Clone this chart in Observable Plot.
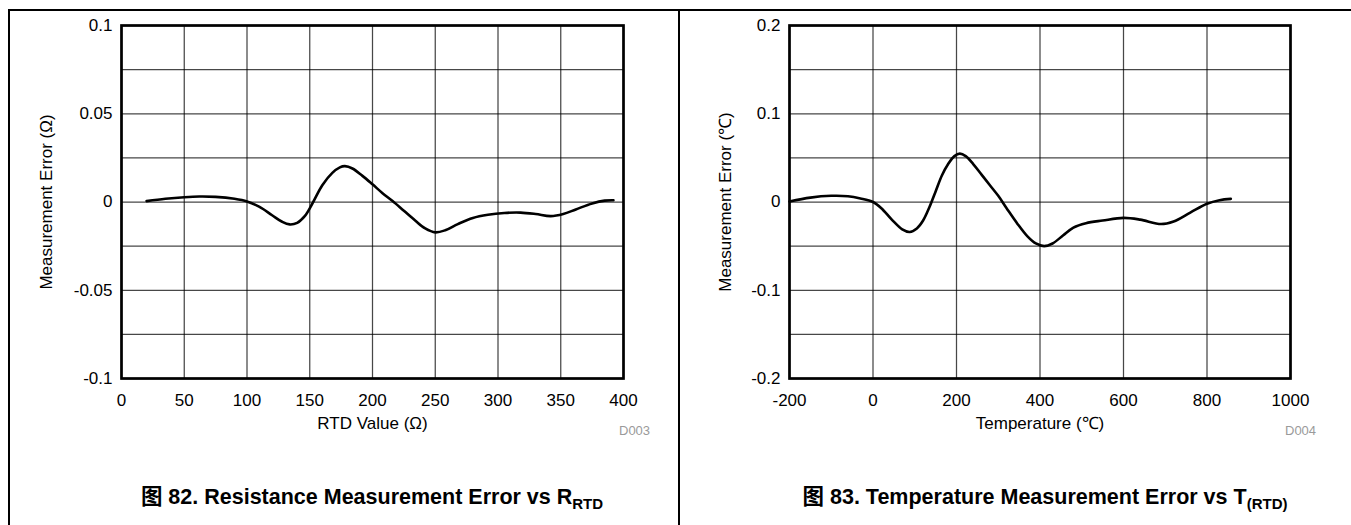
<!DOCTYPE html>
<html><head><meta charset="utf-8">
<script src="https://cdn.jsdelivr.net/npm/d3@7"></script>
<script src="https://cdn.jsdelivr.net/npm/@observablehq/plot@0.6"></script>
<style>
html,body{margin:0;padding:0;background:#fff;}
#page{position:relative;width:1351px;height:525px;overflow:hidden;font-family:"Liberation Sans",Arial,sans-serif;}
.panel{position:absolute;top:0;}
.rule{position:absolute;background:#000;z-index:5;}
.cap{position:absolute;font-weight:bold;font-size:21.5px;line-height:21px;white-space:nowrap;transform:translateX(-50%);font-family:"Liberation Sans","Noto Sans CJK SC",sans-serif;color:#000;}
.cap sub{font-size:15px;line-height:0;vertical-align:-5px;}
.code{position:absolute;color:#9a9a9a;font-size:13px;line-height:13px;}
</style></head>
<body><div id="page">
<div id="left" class="panel" style="left:0"></div>
<div id="right" class="panel" style="left:676px"></div>
<div class="rule" style="left:8px;top:9px;width:1343px;height:1.5px"></div>
<div class="rule" style="left:8px;top:9px;width:1.5px;height:516px"></div>
<div class="rule" style="left:678px;top:9px;width:1.5px;height:516px"></div>
<div class="code" style="left:619px;top:424px">D003</div>
<div class="code" style="left:1285px;top:424px">D004</div>
<div class="cap" style="left:372px;top:487px">图 82. Resistance Measurement Error vs R<sub>RTD</sub></div>
<div class="cap" style="left:1045px;top:487px">图 83. Temperature Measurement Error vs T<sub>(RTD)</sub></div>
</div>
<script>
// ---- Figure 82: resistance error vs RTD value ----
const rtdValue = [20,35,50,62,75,90,100,110,120,128,134,140,146,152,160,168,174,178,184,192,200,208,216,225,234,242,250,258,268,280,292,305,318,330,342,352,362,375,385,392];
const rtdError = [0.0005,0.0018,0.0027,0.0031,0.0029,0.0018,0.0003,-0.0028,-0.0075,-0.0112,-0.0127,-0.0118,-0.0080,-0.0010,0.0095,0.0165,0.0196,0.0203,0.0190,0.0148,0.0100,0.0050,0.0005,-0.0050,-0.0105,-0.0150,-0.0172,-0.0160,-0.0125,-0.0090,-0.0072,-0.0062,-0.0060,-0.0068,-0.0080,-0.0068,-0.0042,-0.0008,0.0008,0.0010];
const leftXTicks = [0,50,100,150,200,250,300,350,400];
const leftXTickLabels = ["0","50","100","150","200","250","300","350","400"];
const leftYGrid = [-0.1,-0.075,-0.05,-0.025,0,0.025,0.05,0.075,0.1];
const leftYTicks = [-0.1,-0.05,0,0.05,0.1];
const leftYTickLabels = ["-0.1","-0.05","0","0.05","0.1"];
const leftXLabel = "RTD Value (Ω)";
const leftYLabel = "Measurement Error (Ω)";

// ---- Figure 83: temperature error vs temperature ----
const tempValue = [-200,-150,-100,-60,-30,0,20,45,70,88,105,120,135,150,165,180,195,208,222,240,260,280,300,320,345,370,390,410,430,455,480,510,550,600,640,690,720,760,800,830,857];
const tempError = [0.0005,0.005,0.007,0.0065,0.004,0.0,-0.007,-0.020,-0.031,-0.034,-0.030,-0.021,-0.006,0.012,0.030,0.043,0.052,0.0548,0.052,0.043,0.031,0.019,0.007,-0.007,-0.024,-0.039,-0.047,-0.050,-0.047,-0.038,-0.029,-0.024,-0.021,-0.018,-0.020,-0.025,-0.022,-0.012,-0.002,0.002,0.0035];
const rightXTicks = [-200,0,200,400,600,800,1000];
const rightXTickLabels = ["-200","0","200","400","600","800","1000"];
const rightYGrid = [-0.2,-0.15,-0.1,-0.05,0,0.05,0.1,0.15,0.2];
const rightYTicks = [-0.2,-0.1,0,0.1,0.2];
const rightYTickLabels = ["-0.2","-0.1","0","0.1","0.2"];
const rightXLabel = "Temperature (℃)";
const rightYLabel = "Measurement Error (℃)";

function makeChart(cfg) {
  const data = cfg.xs.map((x, i) => ({x, y: cfg.ys[i]}));
  const xFmt = new Map(cfg.xTicks.map((t, i) => [t, cfg.xTickLabels[i]]));
  const yFmt = new Map(cfg.yTicks.map((t, i) => [t, cfg.yTickLabels[i]]));
  return Plot.plot({
    width: cfg.width, height: 445,
    marginLeft: cfg.marginLeft, marginRight: cfg.marginRight, marginTop: 25, marginBottom: 67,
    style: {fontFamily: '"Liberation Sans", Arial, sans-serif', fontSize: "17px", background: "transparent", color: "#000", overflow: "visible"},
    x: {domain: cfg.xDomain},
    y: {domain: cfg.yDomain},
    marks: [
      Plot.gridY(cfg.yGrid, {stroke: "#000", strokeOpacity: 0.72, strokeWidth: 1.25}),
      Plot.gridX(cfg.xTicks, {stroke: "#000", strokeOpacity: 0.72, strokeWidth: 1.25}),
      Plot.line(data, {x: "x", y: "y", curve: "catmull-rom", stroke: "#000", strokeWidth: 2.6}),
      Plot.frame({stroke: "#000", strokeWidth: 2.7}),
      Plot.axisX(cfg.xTicks, {tickSize: 0, tickPadding: 15, tickFormat: d => xFmt.get(d), label: cfg.xLabel, labelAnchor: "center", labelArrow: "none", labelOffset: 50, fontSize: 17}),
      Plot.axisY(cfg.yTicks, {tickSize: 0, tickPadding: 9, tickFormat: d => yFmt.get(d), label: cfg.yLabel, labelAnchor: "center", labelArrow: "none", labelOffset: cfg.yLabelOffset, fontSize: 17})
    ]
  });
}

document.getElementById("left").append(makeChart({
  xs: rtdValue, ys: rtdError, width: 676, marginLeft: 121, marginRight: 53,
  xDomain: [0, 400], yDomain: [-0.1, 0.1],
  xTicks: leftXTicks, xTickLabels: leftXTickLabels,
  yGrid: leftYGrid, yTicks: leftYTicks, yTickLabels: leftYTickLabels,
  xLabel: leftXLabel, yLabel: leftYLabel, yLabelOffset: 82
}));
document.getElementById("right").append(makeChart({
  xs: tempValue, ys: tempError, width: 675, marginLeft: 113, marginRight: 61,
  xDomain: [-200, 1000], yDomain: [-0.2, 0.2],
  xTicks: rightXTicks, xTickLabels: rightXTickLabels,
  yGrid: rightYGrid, yTicks: rightYTicks, yTickLabels: rightYTickLabels,
  xLabel: rightXLabel, yLabel: rightYLabel, yLabelOffset: 71
}));
</script>
</body></html>
